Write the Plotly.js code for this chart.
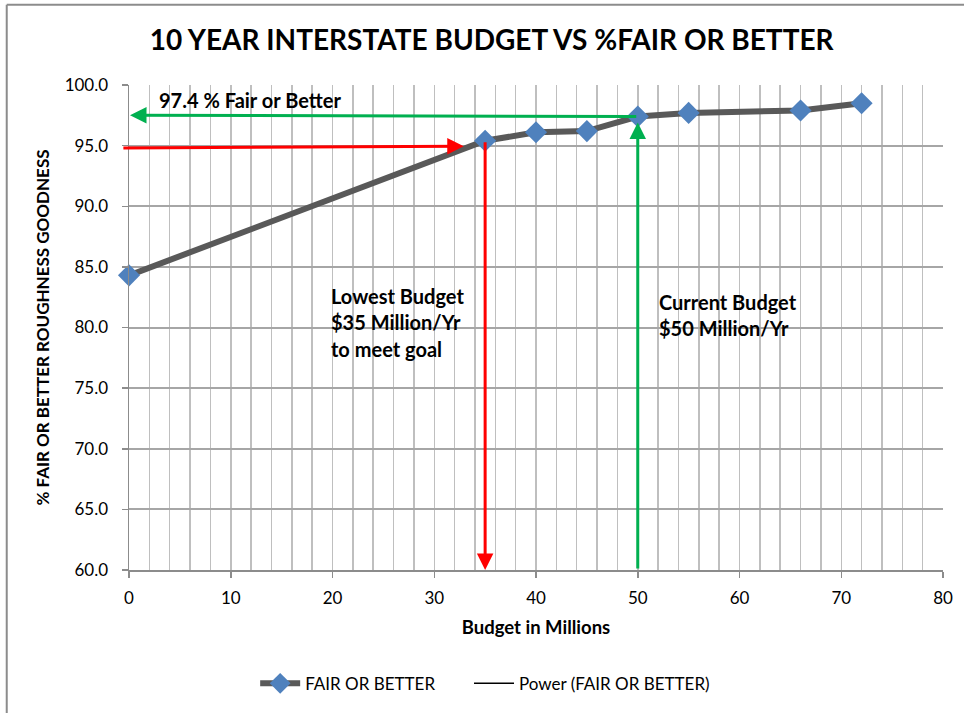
<!DOCTYPE html>
<html>
<head>
<meta charset="utf-8">
<script src="https://cdn.plot.ly/plotly-3.0.1.min.js"></script>
<style>html,body{margin:0;padding:0;background:#fff;}#chart{width:964px;height:713px;}</style>
</head>
<body>
<div id="chart"></div>
<script>
// Data
const budget = [0, 35, 40, 45, 50, 55, 66, 72];
const fairOrBetter = [84.3, 95.4, 96.1, 96.2, 97.4, 97.7, 97.9, 98.5];
const seriesNames = ["FAIR OR BETTER", "Power (FAIR OR BETTER)"];
const xTicks = [0, 10, 20, 30, 40, 50, 60, 70, 80];
const yTicks = [60, 65, 70, 75, 80, 85, 90, 95, 100];

// Reference lines (goal / budgets)
const lowestBudget = 35;
const currentBudget = 50;
const goalValue = 97.4;
const lowestValue = 95.4;

const FONT = "Lato, 'Open Sans', sans-serif";

const traces = [
  {
    x: budget, y: fairOrBetter, type: 'scatter', mode: 'lines+markers',
    name: seriesNames[0],
    line: {color: '#595959', width: 6},
    marker: {symbol: 'diamond', size: 17, color: '#4f81bd'},
    cliponaxis: false
  },
  {
    x: [null], y: [null], type: 'scatter', mode: 'lines',
    name: seriesNames[1], legend: 'legend2',
    line: {color: '#000000', width: 1.5}
  }
];

function arrow(xTip, yTip, xTail, yTail, color) {
  return {x: xTip, y: yTip, ax: xTail, ay: yTail, xref: 'x', yref: 'y', axref: 'x', ayref: 'y',
    text: '', showarrow: true, arrowhead: 2, arrowsize: 1.1, arrowwidth: 3, arrowcolor: color};
}
function label(x, y, t) {
  return {x: x, y: y, xref: 'x', yref: 'y', text: t, showarrow: false, xanchor: 'left', yanchor: 'middle',
    font: {family: FONT, size: 20, color: '#000', weight: 'bold'}};
}

const annotations = [
  arrow(lowestBudget, 60, lowestBudget, lowestValue, '#ff0000'),
  arrow(32.9, 94.95, -0.7, 94.8, '#ff0000'),
  arrow(0.1, 97.5, currentBudget, goalValue, '#00b050'),
  arrow(currentBudget, 96.9, currentBudget, 60, '#00b050'),
  label(2.8, 98.75, '97.4 % Fair or Better'),
  label(19.7, 82.6, 'Lowest Budget'),
  label(19.7, 80.45, '$35 Million/Yr'),
  label(19.7, 78.25, 'to meet goal'),
  label(51.9, 82.1, 'Current Budget'),
  label(51.9, 80.0, '$50 Million/Yr')
];

const legendFont = {family: FONT, size: 17, color: '#000'};

const layout = {
  width: 964, height: 713,
  paper_bgcolor: '#ffffff', plot_bgcolor: '#ffffff',
  margin: {l: 129, r: 21, t: 85, b: 142},
  font: {family: FONT, color: '#000'},
  title: {text: '10 YEAR INTERSTATE BUDGET VS %FAIR OR BETTER', x: 0.51, xanchor: 'center', y: 0.944, yanchor: 'middle',
    font: {family: FONT, size: 28, weight: 'bold', color: '#000'}},
  xaxis: {
    range: [0, 80], tickvals: xTicks, ticktext: xTicks.map(String),
    showgrid: true, gridcolor: '#bfbfbf', gridwidth: 1.5,
    minor: {dtick: 2, tick0: 0, showgrid: true, gridcolor: '#bfbfbf', gridwidth: 1.5},
    showline: true, linecolor: '#8c8c8c', linewidth: 1.5, mirror: false,
    ticks: 'outside', ticklen: 6, tickcolor: '#8c8c8c', tickwidth: 1.5,
    ticklabelstandoff: 6,
    tickfont: {family: FONT, size: 17, color: '#000'},
    zeroline: false,
    title: {text: 'Budget in Millions', standoff: 14, font: {family: FONT, size: 18.5, weight: 'bold', color: '#000'}}
  },
  yaxis: {
    range: [60, 100], tickvals: yTicks, ticktext: yTicks.map(v => v.toFixed(1)),
    showgrid: true, gridcolor: '#a6a6a6', gridwidth: 2,
    showline: true, linecolor: '#8c8c8c', linewidth: 1.5,
    ticks: 'outside', ticklen: 6, tickcolor: '#8c8c8c', tickwidth: 1.5,
    ticklabelstandoff: 10,
    tickfont: {family: FONT, size: 17, color: '#000'},
    zeroline: false,
    title: {text: '% FAIR OR BETTER ROUGHNESS GOODNESS', standoff: 10, font: {family: FONT, size: 17, weight: 'bold', color: '#000'}}
  },
  showlegend: true,
  legend: {orientation: 'h', x: 0.155, xanchor: 'left', y: -0.232, yanchor: 'middle',
    font: legendFont, itemwidth: 40},
  legend2: {orientation: 'h', x: 0.4177, xanchor: 'left', y: -0.232, yanchor: 'middle',
    font: legendFont, itemwidth: 40},
  annotations: annotations,
  shapes: [
    {type: 'line', xref: 'paper', yref: 'paper', x0: -0.1502, x1: 1.03, y0: 1.1656, y1: 1.1656,
     line: {color: '#8c8c8c', width: 2}, layer: 'below'},
    {type: 'line', xref: 'paper', yref: 'paper', x0: -0.1502, x1: -0.1502, y0: -0.32, y1: 1.1656,
     line: {color: '#8c8c8c', width: 2}, layer: 'below'}
  ]
};

Plotly.newPlot('chart', traces, layout, {staticPlot: true, displayModeBar: false});
</script>
</body>
</html>
